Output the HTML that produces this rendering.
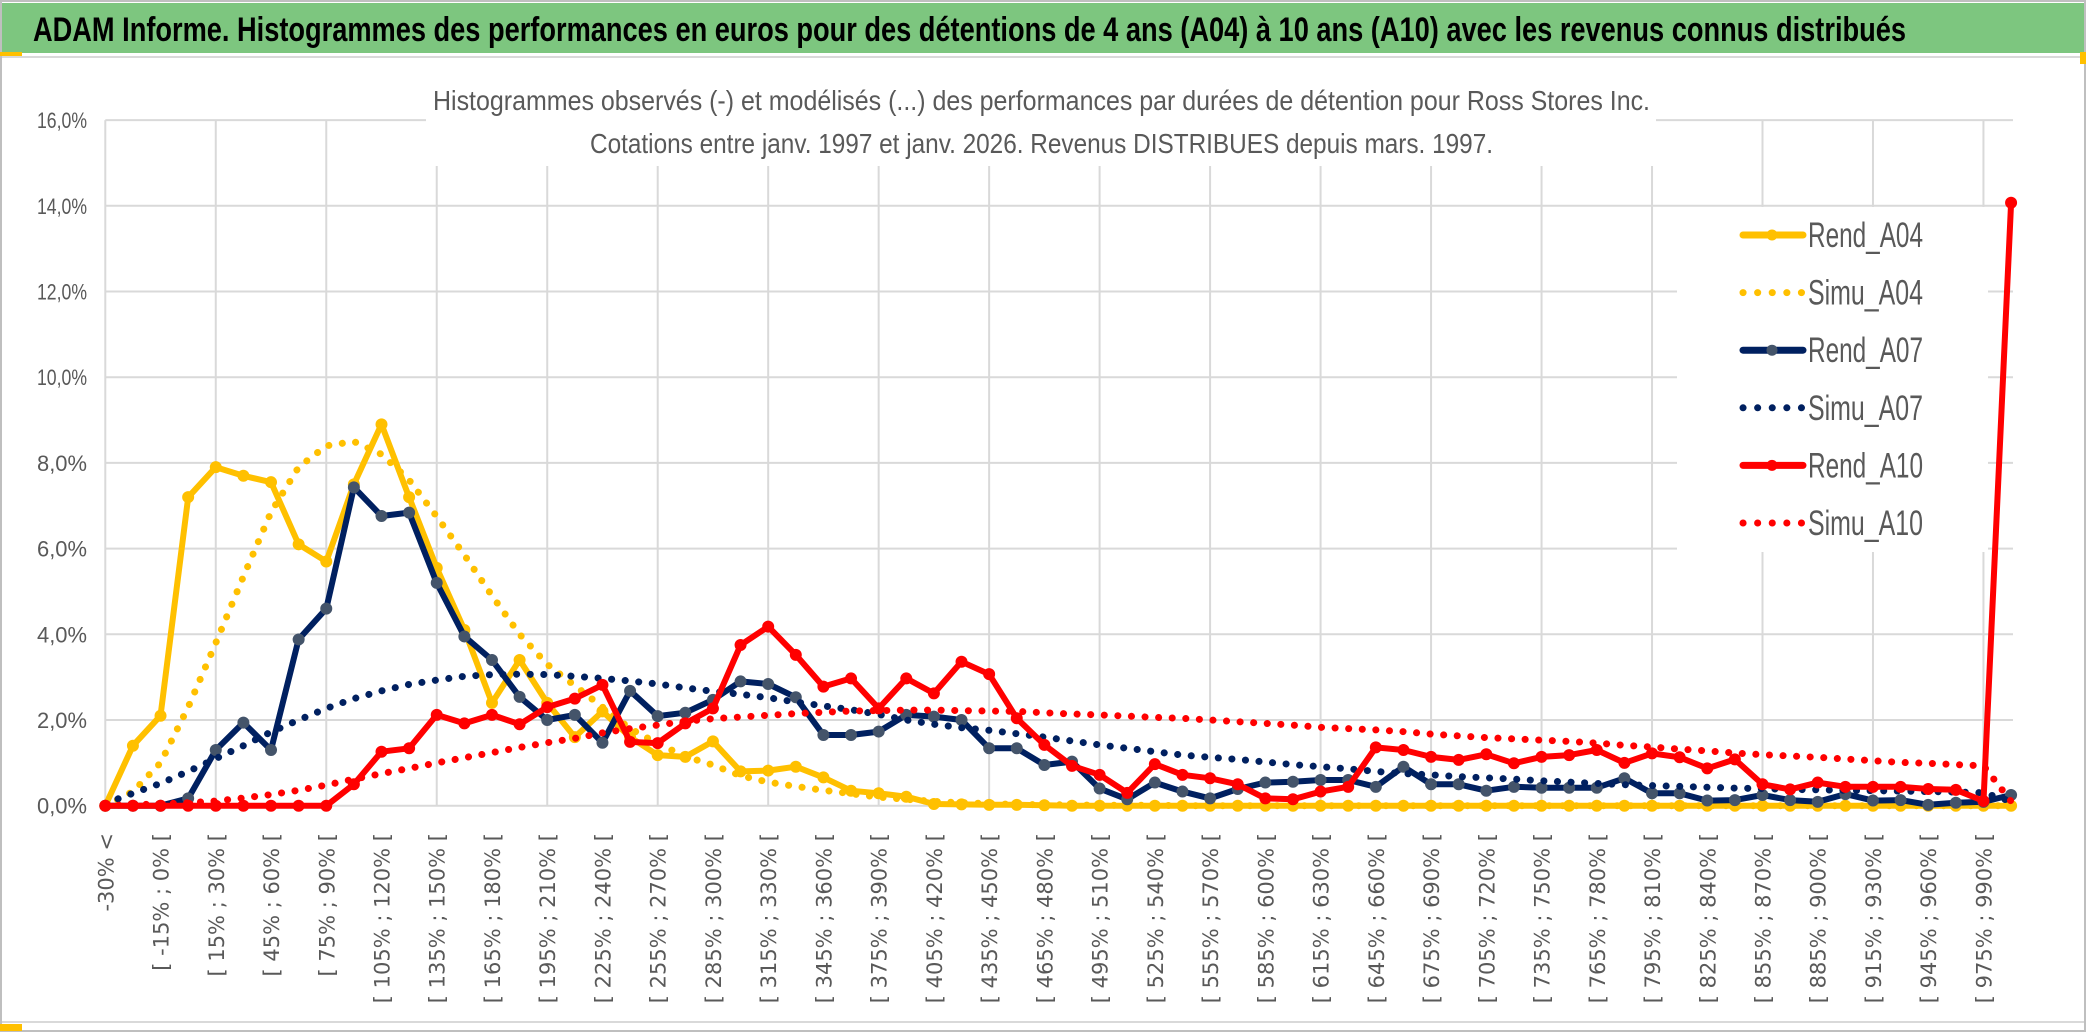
<!DOCTYPE html>
<html><head><meta charset="utf-8"><style>
html,body{margin:0;padding:0;background:#fff;}
svg{display:block;}
</style></head>
<body>
<svg id="chart" width="2086" height="1033" viewBox="0 0 2086 1033" xmlns="http://www.w3.org/2000/svg">
  <rect x="0" y="0" width="2086" height="1033" fill="#fff"/>
  <rect x="1" y="1" width="2084" height="1030" fill="none" stroke="#BFBFBF" stroke-width="2"/>
  <rect x="2" y="3" width="2082" height="50" fill="#7DC67F"/>
  <line x1="2" y1="57" x2="2084" y2="57" stroke="#D9D9D9" stroke-width="2"/>
  <text x="33" y="41" font-family="Liberation Sans, sans-serif" font-weight="bold" font-size="34" fill="#000" textLength="1873" lengthAdjust="spacingAndGlyphs">ADAM Informe. Histogrammes des performances en euros pour des détentions de 4 ans (A04) à 10 ans (A10) avec les revenus connus distribués</text>
  <line x1="2" y1="1022" x2="2084" y2="1022" stroke="#D9D9D9" stroke-width="2"/>
  <rect x="0" y="52" width="22" height="4" fill="#FFC000"/>
  <rect x="0" y="1024" width="22" height="7" fill="#FFC000"/>
  <rect x="2080" y="52" width="6" height="12" fill="#FFC000"/>
  <g id="grid"></g>
  <g id="titlebox">
    <rect x="426" y="84" width="1230" height="82" fill="#fff"/>
    <text x="433" y="110" font-family="Liberation Sans, sans-serif" font-size="28" fill="#595959" textLength="1217" lengthAdjust="spacingAndGlyphs">Histogrammes observés (-) et modélisés (...) des performances par durées de détention pour Ross Stores Inc.</text>
    <text x="590" y="153" font-family="Liberation Sans, sans-serif" font-size="28" fill="#595959" textLength="903" lengthAdjust="spacingAndGlyphs">Cotations entre janv. 1997 et janv. 2026.  Revenus DISTRIBUES depuis mars. 1997.</text>
  </g>
  <g id="yaxis"></g>
  <g id="xaxis"></g>
  <g id="series"></g>
  <g id="legend"></g>
</svg>
<script>
const categoryLows = [];
for (let v = -30; v <= 975; v += 15) categoryLows.push(v);
const rendA04 = [0,1.4,2.1,7.2,7.9,7.7,7.55,6.1,5.7,7.5,8.9,7.2,5.55,4.1,2.4,3.4,2.4,1.6,2.2,1.6,1.18,1.14,1.5,0.8,0.82,0.91,0.66,0.35,0.29,0.21,0.04,0.03,0.02,0.02,0.01,0,0,0,0,0,0,0,0,0,0,0,0,0,0,0,0,0,0,0,0,0,0,0,0,0,0,0,0,0,0,0,0,0,0,0];
const simuA04 = [0,0.33,1.0,2.3,3.8,5.35,6.85,7.9,8.4,8.5,8.2,7.6,6.75,5.85,4.9,4.0,3.3,2.8,2.3,1.8,1.45,1.15,0.95,0.7,0.55,0.45,0.36,0.28,0.2,0.15,0.1,0.07,0.05,0.03,0.02,0.02,0.01,0.01,0.01,0,0,0,0,0,0,0,0,0,0,0,0,0,0,0,0,0,0,0,0,0,0,0,0,0,0,0,0,0,0,0];
const rendA07 = [0,0,0,0.17,1.3,1.94,1.3,3.88,4.6,7.43,6.76,6.84,5.2,3.95,3.4,2.54,2.0,2.12,1.47,2.68,2.09,2.17,2.47,2.9,2.84,2.53,1.65,1.65,1.73,2.12,2.08,2.0,1.34,1.34,0.95,1.03,0.4,0.15,0.54,0.33,0.17,0.39,0.54,0.56,0.6,0.6,0.44,0.91,0.5,0.5,0.35,0.44,0.42,0.42,0.42,0.64,0.29,0.29,0.12,0.13,0.25,0.13,0.09,0.27,0.12,0.13,0.02,0.07,0.09,0.25];
const simuA07 = [0.05,0.29,0.52,0.8,1.1,1.4,1.72,2.0,2.27,2.5,2.68,2.83,2.93,3.02,3.06,3.07,3.06,3.02,2.97,2.91,2.84,2.75,2.67,2.6,2.52,2.42,2.33,2.24,2.13,2.0,1.9,1.82,1.76,1.68,1.6,1.51,1.42,1.34,1.26,1.18,1.13,1.08,1.02,0.96,0.91,0.86,0.8,0.75,0.72,0.68,0.65,0.62,0.58,0.55,0.52,0.49,0.47,0.45,0.43,0.41,0.4,0.38,0.37,0.36,0.35,0.34,0.33,0.32,0.3,0.1];
const rendA10 = [0,0,0,0,0,0,0,0,0,0.5,1.26,1.34,2.12,1.92,2.12,1.9,2.3,2.5,2.82,1.49,1.46,1.92,2.27,3.75,4.18,3.52,2.78,2.97,2.27,2.97,2.62,3.36,3.07,2.04,1.42,0.93,0.72,0.3,0.97,0.72,0.64,0.5,0.17,0.15,0.33,0.44,1.36,1.3,1.14,1.07,1.2,0.99,1.14,1.18,1.3,1.0,1.22,1.13,0.87,1.08,0.5,0.38,0.54,0.44,0.44,0.44,0.39,0.37,0.11,14.07];
const simuA10 = [0,0.02,0.04,0.07,0.11,0.18,0.26,0.36,0.48,0.62,0.75,0.87,1.0,1.12,1.24,1.36,1.47,1.57,1.7,1.8,1.88,1.97,2.03,2.07,2.11,2.15,2.18,2.21,2.22,2.23,2.23,2.22,2.21,2.2,2.17,2.14,2.12,2.09,2.06,2.04,2.0,1.96,1.92,1.88,1.83,1.8,1.77,1.73,1.67,1.63,1.59,1.56,1.53,1.5,1.46,1.41,1.37,1.32,1.28,1.23,1.19,1.16,1.13,1.09,1.05,1.01,0.99,0.96,0.93,0.1];
const yTicks = [0,2,4,6,8,10,12,14,16];
const seriesNames = ["Rend_A04","Simu_A04","Rend_A07","Simu_A07","Rend_A10","Simu_A10"];

const NS = "http://www.w3.org/2000/svg";
const X0 = 105.3, STEP = 27.62, Y0 = 805.7, YPX = 42.85, XR = 2013;
function xPos(i){ return X0 + i*STEP; }
function yPos(v){ return Y0 - v*YPX; }
function mk(tag, attrs, parent){
  const e = document.createElementNS(NS, tag);
  for (const k in attrs) e.setAttribute(k, attrs[k]);
  parent.appendChild(e); return e;
}
function fmtPct(v){ return v.toFixed(1).replace('.', ',') + '%'; }
function catLabel(i){
  if (i === 0) return '-30% <';
  const lo = categoryLows[i-1];
  return '[ ' + lo + '% ; ' + (lo+15) + '% [';
}

const grid = document.getElementById('grid');
const yaxis = document.getElementById('yaxis');
const xaxis = document.getElementById('xaxis');
const nCat = rendA04.length;

yTicks.forEach(t => {
  const gl = mk('line', {x1:X0, x2:XR, y1:yPos(t), y2:yPos(t), stroke:'#D9D9D9', 'stroke-width':2}, grid);
  
  
  const tl = mk('text', {x:87, y:yPos(t)+8, 'text-anchor':'end', 'font-family':'Liberation Sans, sans-serif', 'font-size':22, fill:'#595959', textLength:50, lengthAdjust:'spacingAndGlyphs'}, yaxis);
  
  
  tl.textContent = fmtPct(t);
});
for (let i = 0; i < nCat; i += 4) {
  const vl = mk('line', {x1:xPos(i), x2:xPos(i), y1:yPos(16), y2:Y0, stroke:'#D9D9D9', 'stroke-width':2}, grid);
  
  
}
for (let i = 0; i < nCat - 1; i += 2) {
  const x = xPos(i) + 8, y = 833;
  const t = mk('text', {x:x, y:y, transform:'rotate(-90 '+x+' '+y+')', 'text-anchor':'end', 'font-family':'DejaVu Sans, sans-serif', 'font-size':21, fill:'#595959'}, xaxis);
  
  
  t.textContent = catLabel(i);
}

const styles = [
  {data:rendA04, color:'#FFC000', marker:'#FFC000', dotted:false},
  {data:simuA04, color:'#FFC000', dotted:true},
  {data:rendA07, color:'#002060', marker:'#44546A', dotted:false},
  {data:simuA07, color:'#002060', dotted:true},
  {data:rendA10, color:'#FF0000', marker:'#FF0000', dotted:false},
  {data:simuA10, color:'#FF0000', dotted:true}
];
const sg = document.getElementById('series');
styles.forEach((s, k) => {
  const g = mk('g', {}, sg);
  
  
  const pts = s.data.map((v,i) => xPos(i).toFixed(1)+','+yPos(v).toFixed(1)).join(' ');
  const attrs = {points:pts, fill:'none', stroke:s.color, 'stroke-width': s.dotted?7:6, 'stroke-linejoin':'round', 'stroke-linecap':'round'};
  if (s.dotted) attrs['stroke-dasharray'] = '0.1 13.5';
  const pl = mk('polyline', attrs, g);
  
  
  if (!s.dotted) {
    s.data.forEach((v,i) => {
      const c = mk('circle', {cx:xPos(i), cy:yPos(v), r:5.5, fill:s.marker, stroke:s.marker, 'stroke-width':1}, g);
      
      
    });
  }
});

const lg = document.getElementById('legend');
const lbg = mk('rect', {x:1677, y:207, width:311, height:345, fill:'#fff'}, lg);


styles.forEach((s, k) => {
  const y = 235 + k*57.6;
  const g = mk('g', {}, lg);
  
  
  if (s.dotted) {
    const l = mk('line', {x1:1743, x2:1803, y1:y, y2:y, stroke:s.color, 'stroke-width':7, 'stroke-linecap':'round', 'stroke-dasharray':'0.1 14.5'}, g);
    
    
  } else {
    const l = mk('line', {x1:1743, x2:1803, y1:y, y2:y, stroke:s.color, 'stroke-width':7, 'stroke-linecap':'round'}, g);
    
    
    const c = mk('circle', {cx:1772, cy:y, r:5.5, fill:s.marker}, g);
    
    
  }
  const t = mk('text', {x:1808, y:y+12, 'font-family':'Liberation Sans, sans-serif', 'font-size':35, fill:'#595959', textLength:115, lengthAdjust:'spacingAndGlyphs'}, g);
  
  
  t.textContent = seriesNames[k];
});
</script>
</body></html>
